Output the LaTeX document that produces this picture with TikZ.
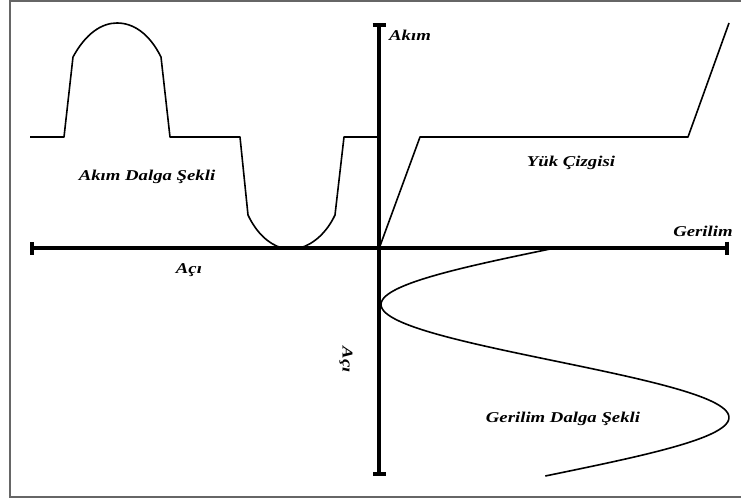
\documentclass[tikz,border=0pt]{standalone}
\usepackage{fontspec}
\setmainfont{Liberation Serif}
\newfontfamily\labfont[FakeStretch=1.25]{Liberation Serif}
\usetikzlibrary{arrows.meta}
\tikzset{
  axis/.style={line width=4pt, {Bar[width=13pt,line width=4pt]}-{Bar[width=13pt,line width=4pt]}},
  wave/.style={line width=1.6pt, line join=round},
  lab/.style={font=\labfont\bfseries\itshape\fontsize{15}{18}\selectfont, inner sep=0pt},
}
\begin{document}
\begin{tikzpicture}[x=1pt,y=-1pt]
\useasboundingbox (0,0) rectangle (741,500);
\fill[white] (0,0) rectangle (741,500);
\draw[gray!80!black, line width=1.5pt] (10,1) rectangle (741.5,497);

% axes
\coordinate (hl) at (30,248);
\coordinate (hr) at (729,248);
\coordinate (vt) at (379,23);
\coordinate (vb) at (379,476);
\draw[axis] (hl) -- (hr);
\draw[axis] (vt) -- (vb);

% current waveform
\draw[wave] (30,137) -- (64,137) -- (73,57)
  .. controls (86,33) and (102,23) .. (117,23)
  .. controls (133,23) and (149,33) .. (161,57)
  -- (170,137) -- (240,137) -- (248,215)
  .. controls (256,232) and (268,244) .. (282,248)
  -- (300,248)
  .. controls (314,244) and (327,232) .. (335,215)
  -- (344,137) -- (379,137);

% load line
\draw[wave] (380,246) -- (420,137) -- (688,137) -- (729,23);

% voltage waveform
\draw[wave] plot[domain=0:228, samples=120, smooth] ({555-174*sin(1.59292*\x)}, {\x+248});

% labels
\node[lab] (akim) at (410,35) {Akım};
\node[lab] (akimdalga) at (147,177) {Akım Dalga Şekli};
\node[lab] (yuk) at (571,163) {Yük Çizgisi};
\node[lab] (gerilim) at (703,231) {Gerilim};
\node[lab] (acih) at (189,270) {Açı};
\node[lab, rotate=-90] (aciv) at (346,360) {Açı};
\node[lab] (gerilimdalga) at (563,419) {Gerilim Dalga Şekli};
\end{tikzpicture}
\end{document}
